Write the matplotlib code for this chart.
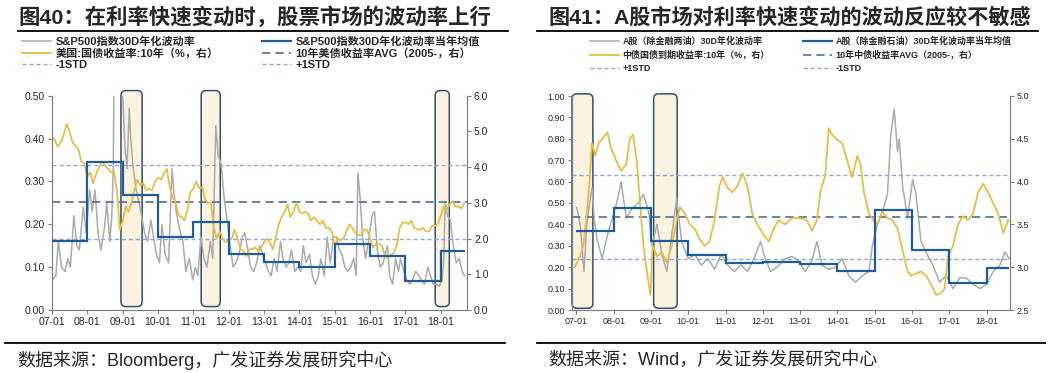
import numpy as np
import pandas as pd
import matplotlib
matplotlib.use('Agg')
import matplotlib.pyplot as plt
from matplotlib.patches import FancyBboxPatch
from matplotlib.lines import Line2D

plt.rcParams['font.family'] = ['Liberation Sans', 'Noto Sans CJK SC']

GREY = '#ABABAB'
GOLD = '#E4BE48'
BLUE = '#1F5C99'
AVG_C = '#4D6F99'
STD_C = '#8EA8D6'
BOX_EDGE = '#2B5472'
BOX_FILL = '#FBF2DF'
AXIS_C = '#808080'
TXT = '#262626'

W, H = 1050, 373

# ---------------- left chart: US ----------------
# 10y treasury yield, monthly from 2007-01 (right axis, %)
us10y = [4.85, 4.75, 4.57, 4.7, 4.9, 5.2, 5.0, 4.7, 4.6, 4.5, 4.15, 4.1,
         3.75, 3.85, 3.55, 3.8, 4.0, 4.15, 4.05, 3.95, 3.85, 3.9, 3.35, 2.25,
         2.5, 2.9, 2.75, 3.0, 3.35, 3.65, 3.5, 3.55, 3.35, 3.4, 3.35, 3.6,
         3.7, 3.65, 3.8, 3.95, 3.45, 3.15, 3.0, 2.65, 2.6, 2.5, 2.8, 3.3,
         3.4, 3.6, 3.4, 3.45, 3.1, 3.0, 3.0, 2.3, 2.0, 2.2, 2.0, 1.9,
         1.95, 2.0, 2.25, 2.0, 1.7, 1.65, 1.5, 1.7, 1.7, 1.75, 1.65, 1.75,
         1.9, 2.0, 1.9, 1.7, 2.0, 2.4, 2.6, 2.75, 2.95, 2.6, 2.75, 3.0,
         2.75, 2.7, 2.75, 2.7, 2.5, 2.6, 2.5, 2.4, 2.5, 2.3, 2.3, 2.2,
         1.8, 2.0, 1.95, 2.0, 2.2, 2.4, 2.3, 2.15, 2.1, 2.1, 2.25, 2.25,
         2.0, 1.75, 1.85, 1.85, 1.8, 1.55, 1.45, 1.55, 1.6, 1.8, 2.3, 2.45,
         2.45, 2.4, 2.5, 2.3, 2.25, 2.25, 2.3, 2.2, 2.2, 2.35, 2.35, 2.4,
         2.65, 2.9, 2.8, 2.95, 3.05, 2.9, 2.9, 2.85, 3.0]

spx_dates = ['2007-01-03', '2007-02-10', '2007-03-08', '2007-04-10', '2007-05-15', '2007-06-15',
             '2007-07-10', '2007-08-15', '2007-09-15', '2007-10-10', '2007-11-20', '2007-12-20',
             '2008-01-25', '2008-02-20', '2008-03-20', '2008-04-20', '2008-05-20', '2008-06-25',
             '2008-07-20', '2008-08-20', '2008-09-10', '2008-09-25', '2008-10-05', '2008-10-25',
             '2008-11-25', '2008-12-20', '2009-01-10', '2009-01-25', '2009-02-15', '2009-03-10',
             '2009-03-25', '2009-04-20', '2009-05-20', '2009-06-20', '2009-07-15', '2009-08-15',
             '2009-09-15', '2009-10-20', '2009-11-15', '2009-12-15', '2010-01-15', '2010-02-10',
             '2010-03-15', '2010-04-20', '2010-05-25', '2010-06-15', '2010-07-15', '2010-08-20',
             '2010-09-15', '2010-10-15', '2010-11-20', '2010-12-25', '2011-01-20', '2011-02-15',
             '2011-03-20', '2011-04-20', '2011-05-20', '2011-06-25', '2011-07-20', '2011-08-20',
             '2011-09-15', '2011-10-15', '2011-11-15', '2011-12-15', '2012-01-15', '2012-02-15',
             '2012-03-15', '2012-04-15', '2012-05-20', '2012-06-15', '2012-07-15', '2012-08-15',
             '2012-09-15', '2012-10-15', '2012-11-15', '2012-12-15', '2013-01-15', '2013-02-15',
             '2013-03-15', '2013-04-15', '2013-05-15', '2013-06-20', '2013-07-15', '2013-08-15',
             '2013-09-15', '2013-10-10', '2013-11-15', '2013-12-15', '2014-01-15', '2014-02-10',
             '2014-03-10', '2014-04-15', '2014-05-15', '2014-06-15', '2014-07-15', '2014-08-10',
             '2014-09-15', '2014-10-15', '2014-11-15', '2014-12-20', '2015-01-20', '2015-02-15',
             '2015-03-15', '2015-04-15', '2015-05-15', '2015-06-15', '2015-07-15', '2015-08-10',
             '2015-08-28', '2015-09-20', '2015-10-15', '2015-11-15', '2015-12-15', '2016-01-20',
             '2016-02-15', '2016-03-15', '2016-04-15', '2016-05-15', '2016-06-28', '2016-07-20',
             '2016-08-20', '2016-09-20', '2016-10-20', '2016-11-10', '2016-12-15', '2017-01-15',
             '2017-02-15', '2017-03-15', '2017-04-15', '2017-05-20', '2017-06-15', '2017-07-15',
             '2017-08-20', '2017-09-15', '2017-10-15', '2017-11-15', '2017-12-15', '2018-01-15',
             '2018-01-31', '2018-02-15', '2018-03-10', '2018-04-10', '2018-05-10', '2018-06-10',
             '2018-07-10', '2018-08-10', '2018-09-01']
spx_vol = [0.07, 0.08, 0.16, 0.10, 0.09, 0.12,
           0.10, 0.22, 0.15, 0.14, 0.24, 0.18,
           0.28, 0.23, 0.28, 0.18, 0.14, 0.19,
           0.25, 0.16, 0.22, 0.33, 0.62, 0.80,
           0.72, 0.55, 0.45, 0.38, 0.33, 0.47,
           0.40, 0.33, 0.28, 0.25, 0.22, 0.18,
           0.16, 0.21, 0.17, 0.13, 0.11, 0.20,
           0.13, 0.11, 0.33, 0.27, 0.22, 0.18,
           0.16, 0.09, 0.12, 0.07, 0.10, 0.08,
           0.17, 0.12, 0.10, 0.16, 0.12, 0.43,
           0.36, 0.34, 0.26, 0.21, 0.15, 0.10,
           0.11, 0.13, 0.17, 0.18, 0.14, 0.10,
           0.09, 0.11, 0.15, 0.13, 0.11, 0.09,
           0.08, 0.12, 0.09, 0.16, 0.12, 0.10,
           0.11, 0.14, 0.09, 0.10, 0.09, 0.15,
           0.11, 0.13, 0.08, 0.06, 0.08, 0.12,
           0.08, 0.17, 0.11, 0.17, 0.17, 0.14,
           0.13, 0.10, 0.09, 0.10, 0.12, 0.08,
           0.32, 0.26, 0.17, 0.12, 0.16, 0.22,
           0.23, 0.14, 0.10, 0.11, 0.15, 0.08,
           0.06, 0.12, 0.09, 0.12, 0.09, 0.07,
           0.06, 0.07, 0.09, 0.08, 0.07, 0.06,
           0.10, 0.08, 0.06, 0.06, 0.055, 0.07,
           0.12, 0.25, 0.22, 0.21, 0.15, 0.11,
           0.12, 0.09, 0.08]

years = list(range(2007, 2019))
spx_year_avg = [0.16, 0.345, 0.268, 0.171, 0.206, 0.13, 0.113, 0.10, 0.153, 0.126, 0.068, 0.138]
us_avg, us_std = 3.03, 1.03
us_periods = [(2008.95, 2009.55), (2011.22, 2011.76), (2017.84, 2018.24)]

# ---------------- right chart: China ----------------
cn_t = [2006.954, 2007.092, 2007.184, 2007.276, 2007.350, 2007.415, 2007.507, 2007.599,
        2007.691, 2007.829, 2007.922, 2008.060, 2008.198, 2008.336, 2008.429, 2008.521,
        2008.613, 2008.705, 2008.797, 2008.889, 2008.982, 2009.044, 2009.159, 2009.291,
        2009.424, 2009.556, 2009.688, 2009.777, 2009.909, 2010.041, 2010.173, 2010.305,
        2010.438, 2010.571, 2010.703, 2010.835, 2010.923, 2011.056, 2011.188, 2011.320,
        2011.453, 2011.585, 2011.717, 2011.850, 2012.026, 2012.159, 2012.291, 2012.423,
        2012.595, 2012.775, 2013.0, 2013.180, 2013.315, 2013.450, 2013.541, 2013.676,
        2013.766, 2013.856, 2013.964, 2014.126, 2014.261, 2014.396, 2014.532, 2014.622,
        2014.712, 2014.847, 2014.964, 2015.072, 2015.207, 2015.342, 2015.477, 2015.613,
        2015.748, 2015.883, 2015.973, 2016.108, 2016.243, 2016.378, 2016.514, 2016.649,
        2016.784, 2016.874, 2016.964, 2017.099, 2017.234, 2017.369, 2017.505, 2017.640,
        2017.775, 2017.910, 2018.045, 2018.180, 2018.315, 2018.450, 2018.586]
cn10y = [3.0, 3.125, 3.25, 3.625, 4.0, 4.45, 4.3, 4.45,
         4.5, 4.575, 4.4, 4.25, 4.125, 4.2, 4.5, 4.55,
         4.25, 3.75, 3.25, 2.95, 2.675, 3.25, 3.125, 3.175,
         3.05, 3.25, 3.55, 3.7, 3.625, 3.5, 3.45, 3.325,
         3.25, 3.3, 3.55, 3.95, 4.05, 3.925, 3.875, 3.95,
         4.1, 3.95, 3.625, 3.5, 3.375, 3.3, 3.45, 3.55,
         3.5, 3.575, 3.575, 3.55, 3.425, 3.55, 3.875, 4.075,
         4.625, 4.55, 4.5, 4.45, 4.25, 4.05, 4.3, 4.2,
         3.875, 3.625, 3.55, 3.5, 3.65, 3.575, 3.55, 3.45,
         3.2, 2.95, 2.9, 2.925, 2.95, 2.9, 2.8, 2.675,
         2.7, 2.75, 3.125, 3.25, 3.5, 3.6, 3.55, 3.625,
         3.875, 3.975, 3.875, 3.75, 3.625, 3.4, 3.55]

ashare_t = [2007.0, 2007.046, 2007.11, 2007.203, 2007.276, 2007.35, 2007.415, 2007.48,
            2007.553, 2007.691, 2007.829, 2007.968, 2008.106, 2008.198, 2008.336, 2008.475,
            2008.659, 2008.797, 2008.935, 2009.027, 2009.159, 2009.291, 2009.424, 2009.556,
            2009.688, 2009.821, 2010.0, 2010.173, 2010.35, 2010.53, 2010.703, 2010.88,
            2011.056, 2011.232, 2011.409, 2011.585, 2011.762, 2011.938, 2012.026, 2012.203,
            2012.38, 2012.595, 2012.775, 2012.955, 2013.135, 2013.315, 2013.45, 2013.586,
            2013.766, 2013.946, 2014.126, 2014.306, 2014.486, 2014.667, 2014.847, 2014.937,
            2015.072, 2015.207, 2015.342, 2015.432, 2015.523, 2015.613, 2015.658, 2015.748,
            2015.883, 2016.018, 2016.108, 2016.243, 2016.378, 2016.559, 2016.739, 2016.919,
            2017.099, 2017.279, 2017.459, 2017.64, 2017.82, 2018.0, 2018.18, 2018.36,
            2018.495, 2018.613]
ashare_vol = [0.48, 0.45, 0.38, 0.18, 0.40, 0.50, 0.57, 0.42,
              0.33, 0.24, 0.35, 0.43, 0.52, 0.60, 0.43, 0.47,
              0.50, 0.54, 0.46, 0.30, 0.40, 0.26, 0.18, 0.35,
              0.52, 0.32, 0.24, 0.26, 0.21, 0.24, 0.19, 0.26,
              0.21, 0.18, 0.21, 0.18, 0.24, 0.32, 0.26, 0.18,
              0.20, 0.24, 0.25, 0.23, 0.18, 0.23, 0.32, 0.21,
              0.19, 0.20, 0.24, 0.16, 0.13, 0.16, 0.18, 0.30,
              0.40, 0.46, 0.54, 0.82, 0.94, 0.74, 0.80, 0.58,
              0.43, 0.61, 0.54, 0.32, 0.27, 0.21, 0.13, 0.16,
              0.10, 0.15, 0.15, 0.12, 0.10, 0.12, 0.18, 0.21,
              0.27, 0.24]
ashare_year_avg = [0.369, 0.477, 0.323, 0.257, 0.221, 0.225, 0.213, 0.182, 0.467, 0.281, 0.128, 0.198]
cn_avg, cn_std = 3.59, 0.49
cn_periods = [(2006.88, 2007.44), (2009.07, 2009.70)]


def dec_year(dates):
    d = pd.to_datetime(dates)
    return np.asarray(d.year + (d.dayofyear - 1) / 365.25)


def add_box(ax, x0, x1, y0, y1):
    bb = ax.get_position()
    xlo, xhi = ax.get_xlim()
    ylo, yhi = ax.get_ylim()
    xpp = (xhi - xlo) / (bb.width * W)
    ypp = (yhi - ylo) / (bb.height * H)
    p = FancyBboxPatch((x0, y0), x1 - x0, y1 - y0,
                       boxstyle='round,pad=0,rounding_size=%f' % (5 * xpp),
                       mutation_aspect=ypp / xpp, facecolor=BOX_FILL,
                       edgecolor=BOX_EDGE, lw=1.1, zorder=1, clip_on=False)
    ax.add_patch(p)


def style_axes(ax, ax2, fs):
    for a in (ax, ax2):
        a.spines['top'].set_visible(False)
        for s in ('left', 'right', 'bottom'):
            a.spines[s].set_color(AXIS_C)
            a.spines[s].set_linewidth(0.8)
        a.tick_params(direction='out', length=3, width=0.8, color=AXIS_C,
                      labelsize=fs, labelcolor=TXT, pad=2)
    ax.set_xticks(years)
    ax.set_xticklabels(['%02d-01' % (y % 100) for y in years])
    ax.patch.set_visible(False)


fig = plt.figure(figsize=(W / 100, H / 100), dpi=100)

# ---- left panel ----
axL = fig.add_axes([52 / W, (H - 310) / H, (467 - 52) / W, (310 - 95.7) / H])
axL.set_zorder(1)
axL2 = axL.twinx()
axL2.set_zorder(2)
axL.set_xlim(2007.0, 2018.74)
axL.set_ylim(0, 0.5)
axL2.set_ylim(0, 6)
axL.set_yticks(np.arange(0, 0.51, 0.1))
axL.set_yticklabels(['%.2f' % v for v in np.arange(0, 0.51, 0.1)])
axL2.set_yticks(np.arange(0, 6.1, 1.0))
axL2.set_yticklabels(['%.1f' % v for v in np.arange(0, 6.1, 1.0)])
style_axes(axL, axL2, 7.5)

for s, e in us_periods:
    add_box(axL, s, e, 0.008, 0.512)

l_grey, = axL.plot(dec_year(spx_dates), spx_vol, color=GREY, lw=1.1, zorder=2)
us_t = dec_year(pd.date_range('2007-01-01', periods=len(us10y), freq='MS'))
l_gold, = axL2.plot(us_t, us10y, color=GOLD, lw=1.3, zorder=2)
edges = years + [2018.67]
axL2.stairs(np.array(spx_year_avg) * 12, edges, baseline=None,
            color=BLUE, lw=1.6, zorder=3)
l_avg = axL2.axhline(us_avg, color=AVG_C, lw=1.2, dashes=(5, 3), zorder=1)
l_up = axL2.axhline(us_avg + us_std, color=STD_C, lw=1.0, dashes=(3, 2), zorder=1)
l_dn = axL2.axhline(us_avg - us_std, color=STD_C, lw=1.0, dashes=(3, 2), zorder=1)

h_blue = Line2D([], [], color=BLUE, lw=1.6)
leg_kw = dict(loc='upper left', frameon=False, borderpad=0, borderaxespad=0,
              handlelength=2.6, handletextpad=0.4, labelspacing=0.12, labelcolor=TXT)
fig.legend([l_grey, l_gold, l_dn],
           ['S&P500指数30D年化波动率', '美国:国债收益率:10年（%，右）', '-1STD'],
           bbox_to_anchor=(22 / W, 1 - 36 / H), prop=dict(size=8, weight='bold'), **leg_kw)
fig.legend([h_blue, l_avg, l_up],
           ['S&P500指数30D年化波动率当年均值', '10年美债收益率AVG（2005-，右）', '+1STD'],
           bbox_to_anchor=(262 / W, 1 - 36 / H), prop=dict(size=8, weight='bold'), **leg_kw)

# ---- right panel ----
axR = fig.add_axes([572 / W, (H - 310) / H, (1010 - 572) / W, (310 - 96) / H])
axR.set_zorder(1)
axR2 = axR.twinx()
axR2.set_zorder(2)
axR.set_xlim(2006.88, 2018.63)
axR.set_ylim(0, 1.0)
axR2.set_ylim(2.5, 5.0)
axR.set_yticks(np.arange(0, 1.01, 0.1))
axR.set_yticklabels(['%.2f' % v for v in np.arange(0, 1.01, 0.1)])
axR2.set_yticks(np.arange(2.5, 5.01, 0.5))
axR2.set_yticklabels(['%.1f' % v for v in np.arange(2.5, 5.01, 0.5)])
style_axes(axR, axR2, 6.5)

for s, e in cn_periods:
    add_box(axR, s, e, 0.008, 1.01)

r_grey, = axR.plot(ashare_t, ashare_vol, color=GREY, lw=1.1, zorder=2)
r_gold, = axR2.plot(cn_t, cn10y, color=GOLD, lw=1.3, zorder=2)
edges_r = years + [2018.61]
axR2.stairs(2.5 + np.array(ashare_year_avg) * 2.5, edges_r, baseline=None,
            color=BLUE, lw=1.6, zorder=3)
r_avg = axR2.axhline(cn_avg, color=AVG_C, lw=1.2, dashes=(5, 3), zorder=1)
r_up = axR2.axhline(cn_avg + cn_std, color=STD_C, lw=1.0, dashes=(3, 2), zorder=1)
r_dn = axR2.axhline(cn_avg - cn_std, color=STD_C, lw=1.0, dashes=(3, 2), zorder=1)

leg_kw_r = dict(leg_kw, handlelength=3.2, labelspacing=0.45)
fig.legend([r_grey, r_gold, r_up],
           ['A股（除金融两油）30D年化波动率', '中债国债到期收益率:10年（%，右）', '+1STD'],
           bbox_to_anchor=(590 / W, 1 - 37 / H), prop=dict(size=6.5, weight='bold'), **leg_kw_r)
fig.legend([h_blue, r_avg, r_dn],
           ['A股（除金融石油）30D年化波动率当年均值', '10年中债收益率AVG（2005-，右）', '-1STD'],
           bbox_to_anchor=(803 / W, 1 - 37 / H), prop=dict(size=6.5, weight='bold'), **leg_kw_r)

# ---- titles, rules, sources ----
fig.text(18 / W, 1 - 17 / H, '图40：在利率快速变动时，股票市场的波动率上行',
         fontsize=15.4, fontweight='bold', color=TXT, va='center', ha='left')
fig.text(548 / W, 1 - 17 / H, '图41：A股市场对利率快速变动的波动反应较不敏感',
         fontsize=15.2, fontweight='bold', color=TXT, va='center', ha='left')
for x0, x1, y in [(18, 508, 31), (537, 1038, 31), (5, 505, 343), (537, 1045, 343)]:
    fig.add_artist(Line2D([x0 / W, x1 / W], [1 - y / H, 1 - y / H],
                          transform=fig.transFigure, color='black', lw=1.3))
fig.text(17 / W, 1 - 360 / H, '数据来源：Bloomberg，广发证券发展研究中心',
         fontsize=13, color=TXT, va='center', ha='left')
fig.text(548 / W, 1 - 360 / H, '数据来源：Wind，广发证券发展研究中心',
         fontsize=13, color=TXT, va='center', ha='left')

fig.savefig('out.png', dpi=100, facecolor='white')
